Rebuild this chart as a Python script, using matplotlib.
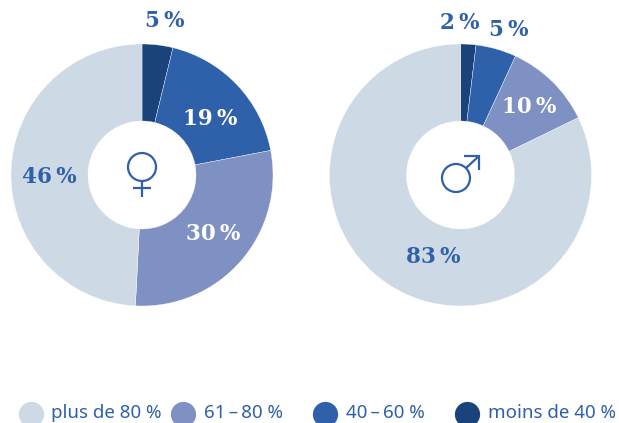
import matplotlib
matplotlib.use("Agg")
import matplotlib.pyplot as plt
from matplotlib.patches import Circle

categories = ["moins de 40 %", "40\u2009–\u200960 %", "61\u2009–\u200980 %", "plus de 80 %"]
legend_order = ["plus de 80 %", "61\u2009–\u200980 %", "40\u2009–\u200960 %", "moins de 40 %"]
women_arcs = [3.8, 18.2, 28.8, 49.2]
men_arcs = [1.9, 5.0, 10.9, 82.2]
women_labels = ["5\u2009%", "19\u2009%", "30\u2009%", "46\u2009%"]
men_labels = ["2\u2009%", "5\u2009%", "10\u2009%", "83\u2009%"]
palette = ["#19437a", "#2f60aa", "#7f90c2", "#cdd9e5"]
colors = dict(zip(categories, palette))
BLUE = "#2f60aa"

W, H = 619, 423
fig = plt.figure(figsize=(W / 100, H / 100), dpi=100)
ax = fig.add_axes([0, 0, 1, 1])

def donut(values, cx, cy):
    ax.pie(values, colors=palette, startangle=90, counterclock=False,
           center=(cx, -cy), radius=131, frame=True,
           wedgeprops=dict(width=77, linewidth=0.25, edgecolor="white"))

donut(women_arcs, 142, 175)
donut(men_arcs, 460.5, 175)
ax.set_xlim(0, W)
ax.set_ylim(-H, 0)
ax.set_aspect("auto")
ax.axis("off")

def label(x, y, s, c):
    ax.text(x, -y, s, ha="center", va="center", color=c, fontsize=15.5,
            fontweight="bold", family="DejaVu Serif")

for (x, y), s, c in zip([(165, 21), (210, 119), (213, 234), (49, 177)], women_labels,
                        [BLUE, "white", "white", BLUE]):
    label(x, y, s, c)
for (x, y), s, c in zip([(460, 23), (509, 30), (529, 107), (433, 257)], men_labels,
                        [BLUE, BLUE, "white", BLUE]):
    label(x, y, s, c)

# gender icons
lw = 1.6
ax.add_patch(Circle((142, -167), 14, fill=False, ec=BLUE, lw=lw))
ax.plot([142, 142], [-181, -197], color=BLUE, lw=lw, solid_capstyle="butt")
ax.plot([133, 151], [-188, -188], color=BLUE, lw=lw, solid_capstyle="butt")
ax.add_patch(Circle((456, -178), 14, fill=False, ec=BLUE, lw=lw))
ax.plot([466, 479], [-168, -156], color=BLUE, lw=lw, solid_capstyle="butt")
ax.plot([464, 479, 479], [-156, -156, -170], color=BLUE, lw=lw,
        solid_joinstyle="miter", solid_capstyle="butt")

for name, mx, tx in zip(legend_order, [31, 183, 325, 467], [51, 204, 346, 488]):
    ax.scatter([mx], [-414], s=330, color=colors[name], linewidths=0)
    ax.text(tx, -418.2, name, ha="left", va="baseline", color=BLUE, fontsize=13.5, family="Noto Sans")

fig.savefig("out.png", dpi=100)
